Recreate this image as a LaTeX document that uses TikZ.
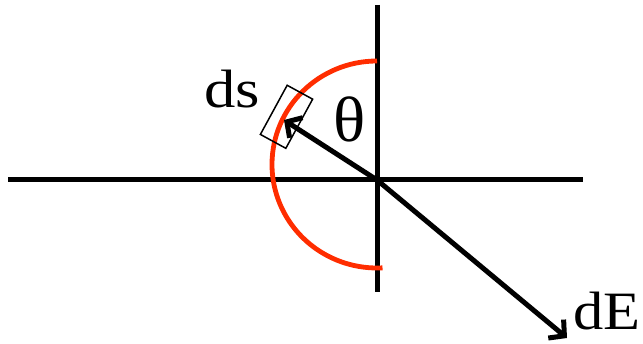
\documentclass[tikz,border=0pt]{standalone}
\usepackage{fontspec}
\usepackage{graphicx}
\setmainfont{Liberation Serif}
\usetikzlibrary{arrows.meta}
\begin{document}
\begin{tikzpicture}[x=1pt,y=1pt,
  axis/.style={line width=5pt,black},
  vec/.style={line width=5pt,black,-{Straight Barb[length=11pt,width=24pt,line width=5pt]}},
  redarc/.style={line width=4.8pt,color={rgb,255:red,255;green,45;blue,0}},
  elem/.style={draw,line width=1.5pt,minimum width=56pt,minimum height=29pt,inner sep=0pt,rotate=61.4},
  lbl/.style={inner sep=0pt,font=\fontsize{54}{54}\selectfont}]
\useasboundingbox (0,0) rectangle (643,-344);
\coordinate (O) at (377,-180);
\coordinate (hL) at (8,-180);
\coordinate (hR) at (583,-180);
\coordinate (vT) at (377,-5);
\coordinate (vB) at (377,-292);
\coordinate (arcS) at (377,-61);
\coordinate (dsTip) at (284,-120);
\coordinate (dETip) at (567,-338);
\draw[axis] (hL) -- (hR);
\draw[axis] (vT) -- (vB);
\draw[redarc] (arcS) arc[start angle=90,end angle=273,x radius=105,y radius=103.5];
\node[elem] (box) at (286.5,-116.8) {};
\draw[vec] (O) -- (dsTip);
\draw[vec] (O) -- (dETip);
\node[lbl,anchor=base west] (ds) at (204,-108) {\scalebox{1.16}[1]{ds}};
\node[lbl,anchor=base west,font=\fontsize{64}{64}\selectfont] (th) at (333,-142) {\scalebox{1.05}[1]{θ}};
\node[lbl,anchor=base east] (dE) at (641,-330) {\scalebox{1.12}[1]{dE}};
\end{tikzpicture}
\end{document}
